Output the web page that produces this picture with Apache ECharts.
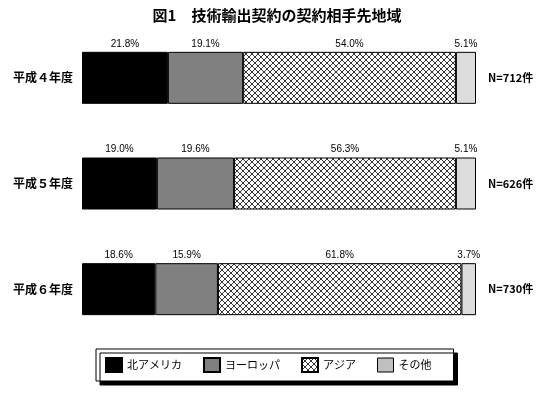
<!DOCTYPE html>
<html><head><meta charset="utf-8">
<script src="https://cdn.jsdelivr.net/npm/echarts@6/dist/echarts.min.js"></script>
<style>html,body{margin:0;padding:0;background:#fff}#c{width:560px;height:396px}</style>
</head><body><div id="c"></div>
<script>
const titleText = '図1　技術輸出契約の契約相手先地域';
const years = ['平成４年度', '平成５年度', '平成６年度'];
const counts = ['N=712件', 'N=626件', 'N=730件'];
const seriesNames = ['北アメリカ', 'ヨーロッパ', 'アジア', 'その他'];
const northAmerica = [21.8, 19.0, 18.6];
const europe = [19.1, 19.6, 15.9];
const asia = [54.0, 56.3, 61.8];
const others = [5.1, 5.1, 3.7];

function hatch() {
  const c = document.createElement('canvas');
  c.width = 6; c.height = 6;
  const g = c.getContext('2d');
  g.fillStyle = '#fff'; g.fillRect(0, 0, 6, 6);
  g.strokeStyle = '#000'; g.lineWidth = 0.8;
  g.beginPath();
  g.moveTo(0, 0); g.lineTo(6, 6);
  g.moveTo(6, 0); g.lineTo(0, 6);
  g.stroke();
  return c;
}
const hatchColor = { image: hatch(), repeat: 'repeat' };
const colors = ['#000000', '#808080', hatchColor, '#dcdcdc'];
const values = [northAmerica, europe, asia, others];

const font = '"Noto Sans CJK JP", sans-serif';
const chart = echarts.init(document.getElementById('c'), null, {renderer: 'canvas'});
chart.setOption({
  animation: false,
  title: {
    text: titleText, left: 272, top: 3, textAlign: 'center',
    textStyle: {fontFamily: font, fontSize: 15, fontWeight: 'bold', color: '#000'}
  },
  grid: {left: 82, right: 84, top: 25, bottom: 54, containLabel: false},
  xAxis: {type: 'value', min: 0, max: 100, show: false},
  yAxis: [
    {type: 'category', data: years, inverse: true, position: 'left',
     axisLine: {show: false}, axisTick: {show: false},
     axisLabel: {margin: 9, fontFamily: font, fontSize: 12, fontWeight: 'bold', color: '#000'}},
    {type: 'category', data: counts, inverse: true, position: 'right',
     axisLine: {show: false}, axisTick: {show: false},
     axisLabel: {margin: 12, fontFamily: font, fontSize: 11, fontWeight: 'bold', color: '#000'}}
  ],
  legend: {
    left: 96, top: 349,
    padding: [8, 22, 8, 9],
    itemGap: 21, itemWidth: 16, itemHeight: 14,
    backgroundColor: '#fff', borderColor: '#000', borderWidth: 1,
    shadowColor: '#000', shadowBlur: 0, shadowOffsetX: 4, shadowOffsetY: 4,
    textStyle: {fontFamily: font, fontSize: 11, color: '#000'},
    data: seriesNames.map((n, i) => ({name: n, icon: 'rect',
      itemStyle: i === 3 ? {color: '#c0c0c0', borderColor: '#000', borderWidth: 1} : undefined}))
  },
  series: seriesNames.map((n, i) => ({
    name: n, type: 'bar', stack: 'all', barWidth: 52,
    yAxisIndex: 0,
    itemStyle: {color: colors[i], borderColor: '#000', borderWidth: 1},
    label: {show: true, position: 'top', distance: 3, formatter: p => p.value.toFixed(1) + '%',
      fontFamily: '"Liberation Sans", Arial, sans-serif', fontSize: 10, color: '#000'},
    data: values[i]
  }))
});
</script></body></html>
